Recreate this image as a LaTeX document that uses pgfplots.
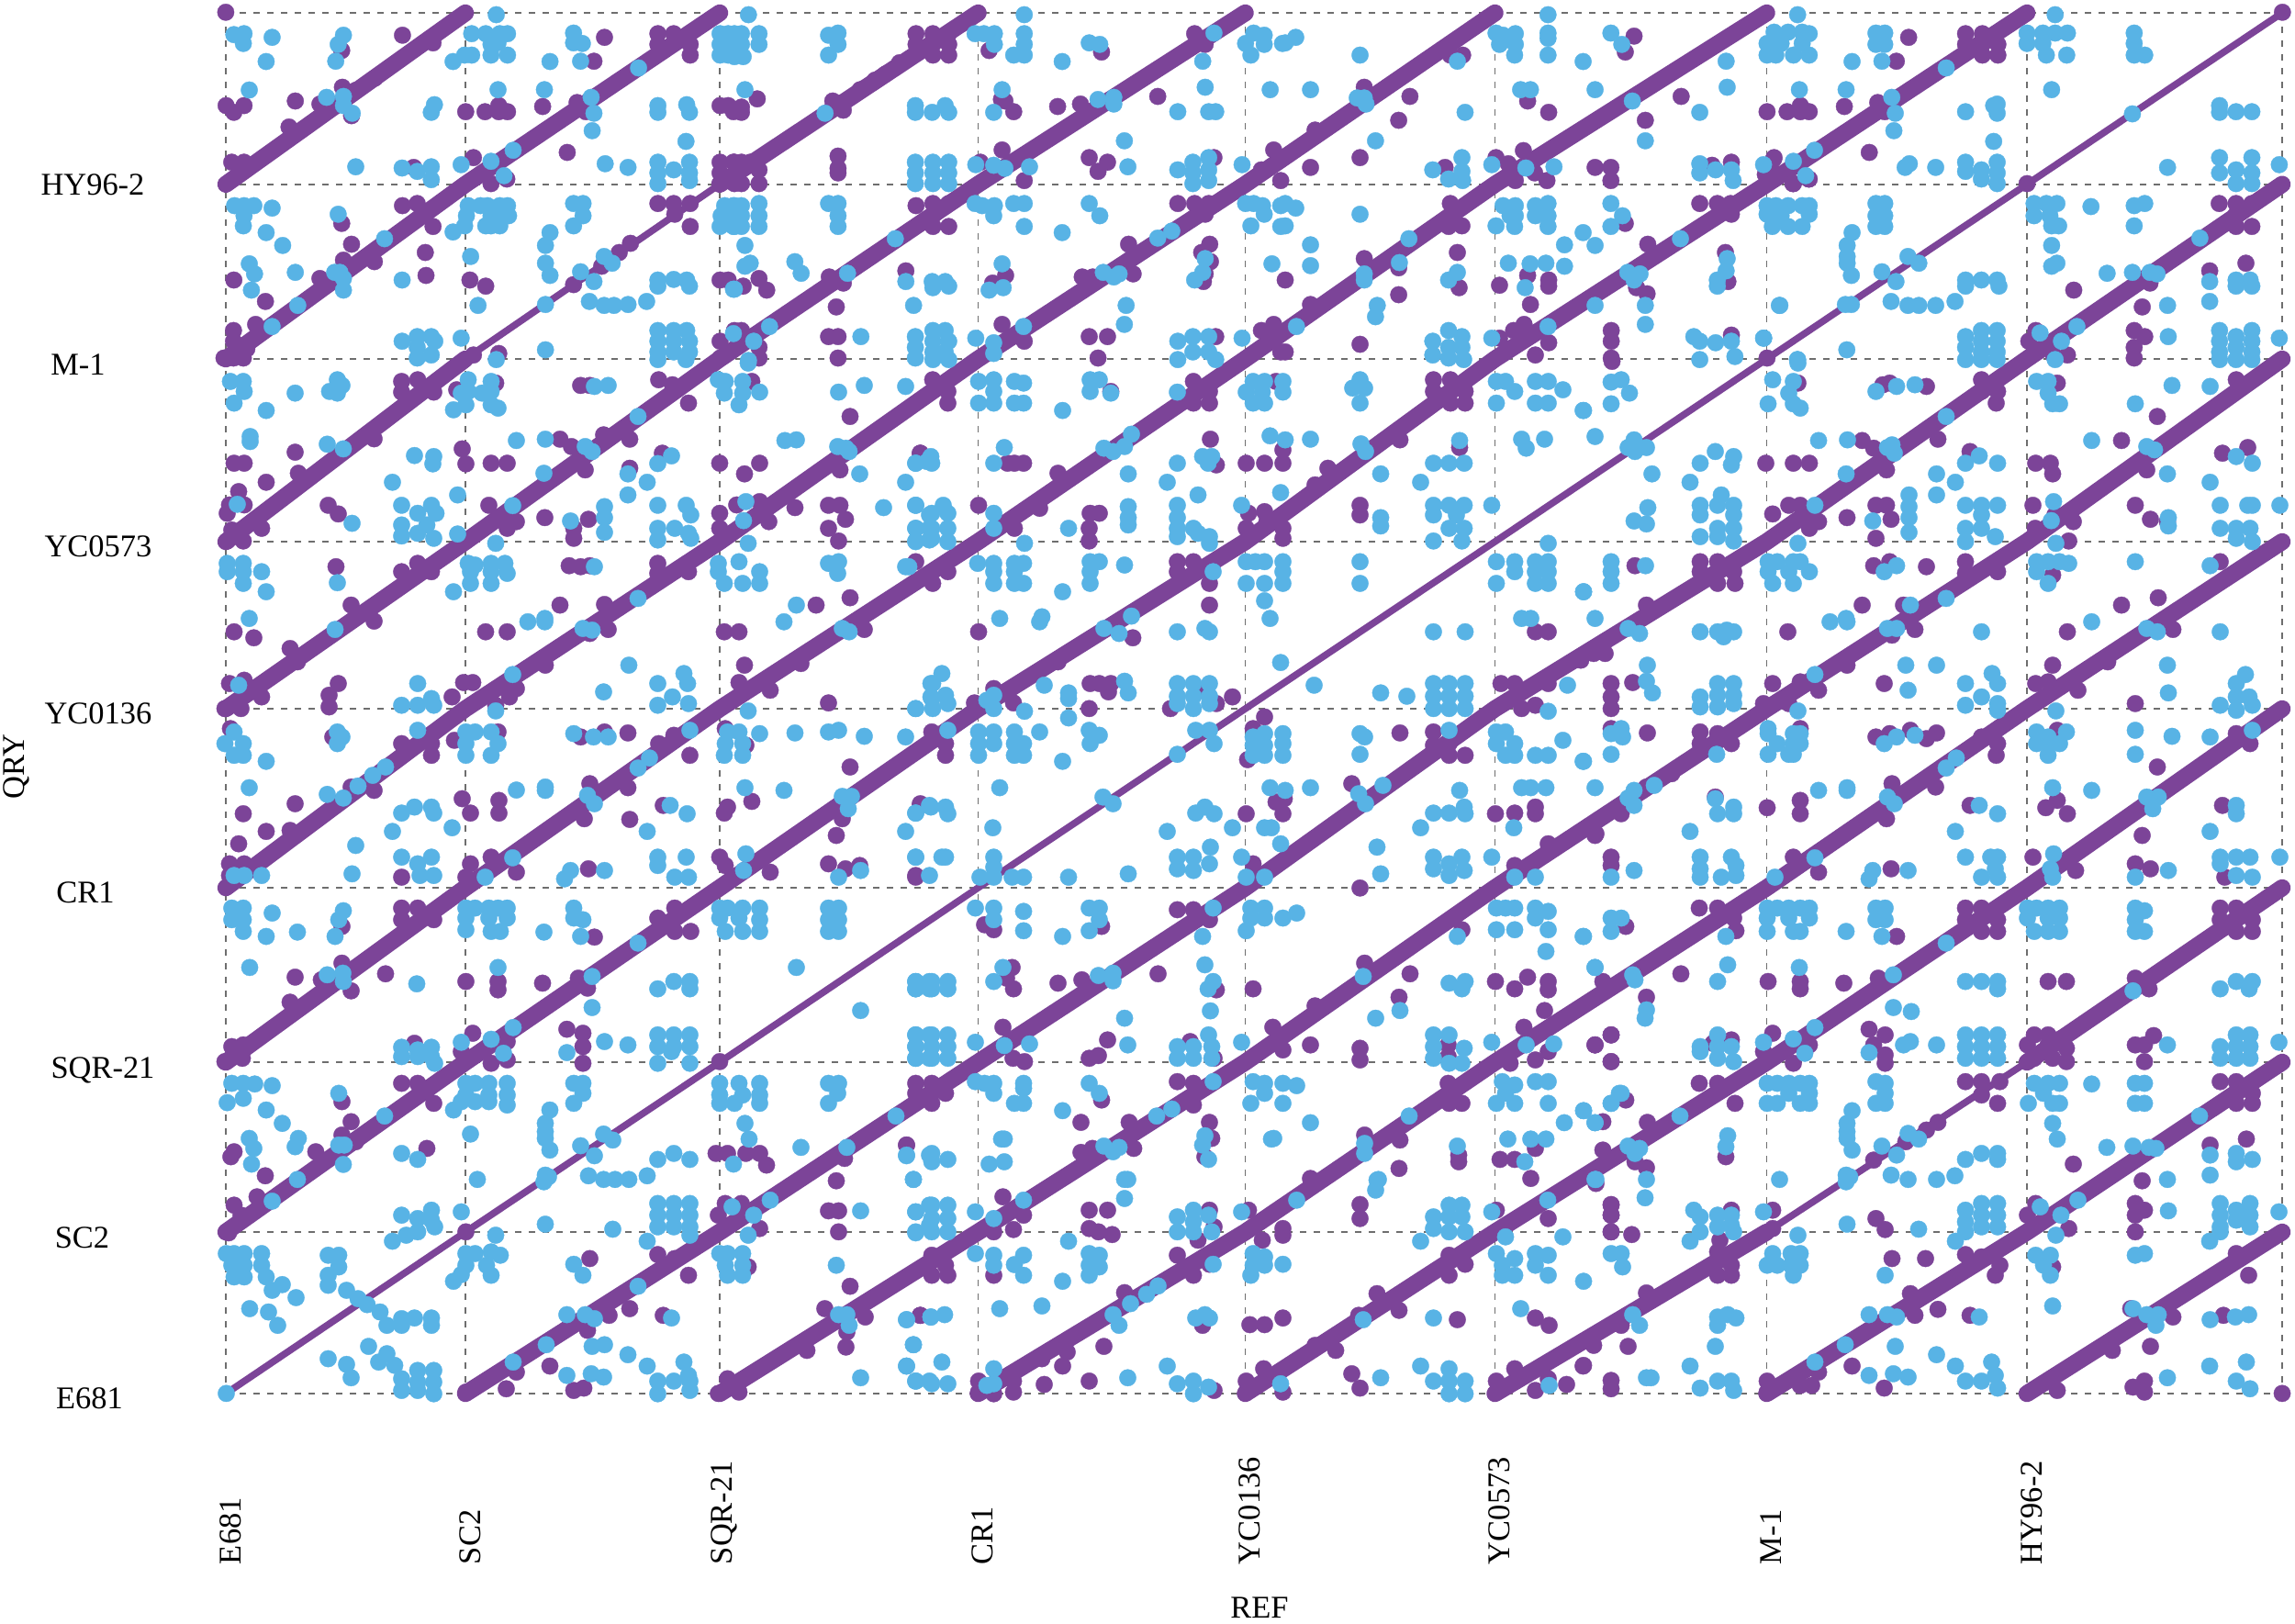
\documentclass[border=0pt]{standalone}
\usepackage{pgfplots}
\pgfplotsset{compat=1.18}
\usepackage{fontspec}
\setmainfont{Liberation Serif}
\definecolor{pur}{HTML}{7C4498}
\definecolor{blu}{HTML}{58B3E5}
\definecolor{grd}{HTML}{6E6E6E}
\newcommand\yl[3]{\raisebox{#2cm}[0pt][0pt]{\makebox[0pt][c]{\hspace{#1cm}#3}}}
\pgfplotsset{
 pd/.style={only marks,mark=*,mark size=2.6pt,mark options={draw=pur,fill=pur,line width=0.1pt}},
 bd/.style={only marks,mark=*,mark size=2.6pt,mark options={draw=blu,fill=blu,line width=0.1pt}},
 ca/.style={x filter/.expression={x/2.613+#1},y filter/.expression={y/3}},
 cb/.style={x filter/.expression={x/2+#1},y filter/.expression={y/2.75+390}},
 cc/.style={x filter/.expression={x/2+#1},y filter/.expression={y/2.75+960}},
 thick diag/.style={pur,line width=0.185cm,line cap=round,line join=round},
 thin diag/.style={pur,line width=0.075cm,line cap=round,line join=round},
}
\begin{document}
\begin{tikzpicture}
\useasboundingbox (0,0) rectangle (25cm,17.68cm);
\begin{axis}[
 at={(2.46cm,2.5cm)},anchor=south west,scale only axis,width=22.4cm,height=15.04cm,
 xmin=246,xmax=2486,ymin=14,ymax=1518,y dir=reverse,clip=false,
 axis line style={draw=none},tick style={draw=none},
 xtick={246,507,784,1065.5,1356.5,1628.5,1924.5,2208,2486},
 xticklabels={E681,SC2,SQR-21,CR1,YC0136,YC0573,M-1,HY96-2,},
 ytick={14,200.7,391,590,772,967,1157,1342,1518},
 yticklabels={,\yl{0.1}{-0.12}{HY96-2},\yl{-0.22}{-0.17}{M-1},\yl{0.22}{-0.16}{YC0573},\yl{0.22}{-0.16}{YC0136},\yl{-0.06}{-0.16}{CR1},\yl{0.32}{-0.17}{SQR-21},\yl{-0.13}{-0.17}{SC2},\yl{0.03}{-0.16}{E681}},
 grid=major,grid style={grd,line width=0.016cm,dash pattern=on 0.065cm off 0.085cm},
 ticklabel style={font=\fontsize{9.8}{11}\selectfont},
 xticklabel style={rotate=90,anchor=west,inner sep=0pt,outer sep=0pt,xshift=-1.86cm,yshift=-0.05cm},
 yticklabel style={anchor=center,inner sep=0pt,outer sep=0pt,xshift=-1.5cm},
 every axis x label/.style={at={(axis cs:1372,1751)},anchor=center,font=\fontsize{9.8}{11}\selectfont},
 every axis y label/.style={at={(axis cs:18,835)},anchor=center,rotate=90,font=\fontsize{9.8}{11}\selectfont},
 xlabel={REF},ylabel={QRY},
]
% synteny diagonals
\addplot[thin diag] coordinates {(246,1518)(507,1342)(784,1157)(1065.5,967)(1356.5,772)(1628.5,590)(1924.5,391)(2208,200.7)(2486,14)};
\addplot[thick diag] coordinates {(246,1342)(507,1157)(784,967)(1065.5,772)(1356.5,590)(1628.5,391)(1924.5,200.7)(2208,14)};
\addplot[thick diag] coordinates {(246,1157)(507,967)(784,772)(1065.5,590)(1356.5,391)(1628.5,200.7)(1924.5,14)};
\addplot[thick diag] coordinates {(246,967)(507,772)(784,590)(1065.5,391)(1356.5,200.7)(1628.5,14)};
\addplot[thick diag] coordinates {(246,772)(507,590)(784,391)(1065.5,200.7)(1356.5,14)};
\addplot[thick diag] coordinates {(246,590)(507,391)};
\addplot[thin diag] coordinates {(507,391)(784,200.7)};
\addplot[thick diag] coordinates {(784,200.7)(1065.5,14)};
\addplot[thick diag] coordinates {(246,391)(507,200.7)(784,14)};
\addplot[thick diag] coordinates {(246,200.7)(507,14)};
\addplot[thick diag] coordinates {(507,1518)(784,1342)(1065.5,1157)(1356.5,967)(1628.5,772)(1924.5,590)(2208,391)(2486,200.7)};
\addplot[thick diag] coordinates {(784,1518)(1065.5,1342)(1356.5,1157)(1628.5,967)(1924.5,772)(2208,590)(2486,391)};
\addplot[thick diag] coordinates {(1065.5,1518)(1356.5,1342)(1628.5,1157)(1924.5,967)(2208,772)(2486,590)};
\addplot[thick diag] coordinates {(1356.5,1518)(1628.5,1342)(1924.5,1157)(2208,967)(2486,772)};
\addplot[thick diag] coordinates {(1628.5,1518)(1924.5,1342)};
\addplot[thin diag] coordinates {(1924.5,1342)(2208,1157)};
\addplot[thick diag] coordinates {(2208,1157)(2486,967)};
\addplot[thick diag] coordinates {(1924.5,1518)(2208,1342)(2486,1157)};
\addplot[thick diag] coordinates {(2208,1518)(2486,1342)};
% purple dots
\addplot[pd,ca=200] coordinates {(120,40)(623,115)(710,140)(450,165)(452,285)(318,330)(121,345)(172,345)(143,367)(388,340)(478,378)(300,415)(137,530)(172,530)(655,547)(545,255)(490,295)(803,365)(858,365)(897,345)(897,365)(922,365)(1022,348)(1092,498)(825,515)(875,600)(920,585)(1120,335)(1145,365)(1198,122)(1168,200)(1350,110)(1395,110)(1350,145)(1442,145)(1442,180)(1527,345)(1550,345)(1565,365)(1527,530)(1527,565)(1527,600)(1565,530)(623,672)(665,665)(710,740)(478,798)(688,825)(455,850)(543,855)(690,900)(143,915)(233,985)(388,910)(450,730)(815,915)(860,935)(897,1155)(825,1160)(142,1080)(205,1060)(142,1115)(142,1170)(170,1170)(115,1170)(180,1140)(1350,665)(1395,665)(1442,665)(1398,700)(1442,740)(1272,795)(1240,825)(1190,870)(1110,930)(1527,915)(1550,915)(1527,1115)(1527,1170)};
\addplot[pd,ca=800] coordinates {(65,323)(20,350)(20,367)(517,110)(517,145)(565,110)(565,145)(565,180)(610,110)(610,145)(610,180)(725,165)(1045,170)(1310,110)(1340,145)(280,330)(310,360)(358,293)(400,262)(430,242)(470,205)(295,510)(295,550)(295,565)(0,530)(20,530)(70,555)(70,600)(20,600)(0,600)(45,530)(760,325)(770,330)(795,365)(920,348)(985,340)(1205,315)(762,490)(700,530)(825,590)(1010,515)(1062,530)(1035,560)(1365,515)(517,672)(565,665)(565,705)(610,665)(610,740)(565,740)(1262,665)(1310,665)(1350,665)(1340,700)(1122,798)(1135,895)(1353,798)(1330,825)(1355,855)(1335,920)(1340,895)(70,910)(25,935)(92,948)(270,905)(310,925)(488,885)(735,925)(772,900)(990,905)(1020,905)(290,1003)(268,1100)(295,1100)(295,1170)(0,1080)(20,1080)(70,1170)(70,1135)(1010,1100)(1062,1100)(1035,1170)(762,1060)(825,1115)(1370,1100)(1535,490)(1500,555)(1555,590)(1535,1060)(1500,1080)(1555,1150)};
\addplot[pd,ca=1400] coordinates {(505,180)(470,180)(690,330)(750,367)(993,118)(968,170)(355,315)(323,393)(225,285)(213,515)(72,547)(455,547)(1270,530)(1215,540)(882,547)(927,547)(927,590)(1127,315)(1025,393)(85,425)(600,515)(635,535)(678,492)(655,590)(745,590)(710,565)(470,665)(465,740)(503,738)(490,825)(1180,665)(1230,665)(1268,665)(1270,700)(1032,798)(1253,825)(0,915)(225,845)(323,963)(495,940)(610,932)(690,900)(750,915)(750,935)(698,995)(1260,920)(323,875)(1000,940)(1030,960)(213,1125)(928,1080)(928,1115)(928,1170)(750,1120)(712,1160)(1270,1095)(610,1105)(680,1060)(650,1080)(72,995)(0,1150)(968,730)(1390,520)(1390,565)(1490,585)(1445,600)};
\addplot[pd,ca=1900] coordinates {(468,122)(433,200)(630,110)(678,110)(630,145)(678,145)(678,180)(722,145)(722,180)(65,365)(122,365)(160,345)(160,365)(185,365)(285,348)(380,335)(400,365)(356,498)(85,515)(85,565)(60,570)(140,600)(185,585)(1532,40)(805,600)(1325,885)(1428,860)(938,948)(1133,1003)(1155,925)(1110,1080)(1140,1100)(1110,1135)(1110,1170)(810,1115)(830,1080)(830,1150)(880,1160)(920,1160)(1352,665)(1400,665)(1445,665)(1400,700)(1445,740)(1400,740)(65,1170)};
\addplot[pd,cb=230] coordinates {(415,70)(450,65)(415,102)(485,102)(535,95)(620,75)(805,82)(825,82)(975,65)(1005,80)(1040,135)(1178,70)(1392,175)(183,282)(50,315)(72,315)(355,242)(120,372)(190,345)(60,400)(40,440)(72,440)(35,465)(110,510)(45,515)(35,548)(70,548)(255,441)(277,467)(547,272)(555,317)(610,315)(645,315)(760,243)(785,265)(912,243)(855,230)(815,335)(727,478)(822,483)(790,510)(790,540)(605,441)(665,490)(645,510)(912,330)(983,285)(1108,315)(1195,315)(1162,347)(1108,465)(1108,510)(1145,440)(1195,430)(1215,490)(1272,448)(1345,441)(1370,441)(1382,483)(1345,510)(1367,548)(1545,285)(1370,335)(272,625)(415,640)(450,615)(480,640)(780,622)(805,625)(825,622)(305,740)(355,788)(50,820)(93,838)(172,870)(188,910)(598,820)(645,820)(760,740)(857,738)(865,813)(825,825)(728,920)(1118,820)(1150,820)(1162,920)(1318,740)(1392,718)(1423,813)(973,615)(973,645)(1040,640)(1285,915)(1535,610)(40,975)(72,965)(110,1015)(277,975)(257,1010)(257,1045)(30,1050)(65,1050)(525,1015)(550,972)(570,972)(620,1040)(650,1015)(665,990)(1150,972)(1218,995)(1345,1033)(42,1110)(265,1135)(415,1155)(480,1155)(480,1190)(530,1145)(625,1120)(805,1135)(857,1120)(908,1123)(1120,1110)(1165,1160)(975,1155)(1008,1130)(1043,1190)(1392,1225)(825,1275)(908,1287)(183,1335)(70,1365)(120,1418)(172,1415)(60,1455)(355,1295)(305,1285)(547,1320)(565,1363)(627,1325)(627,1363)(912,1382)(813,1380)(985,1340)(1118,1363)(1125,1345)(1178,1328)(1362,1430)(1375,1380)(1545,1340)(40,1515)(72,1515)(40,1550)(415,1555)(555,1555)(565,1515)(610,1495)(665,1540)(822,1530)(1108,1495)(1120,1520)(1218,1540)(1345,1515)(1382,1530)(1413,1520)(1535,1550)};
\addplot[pd,cb=980] coordinates {(105,135)(72,65)(105,100)(460,100)(820,70)(640,70)(675,100)(640,135)(675,135)(677,243)(1090,245)(1220,268)(1163,65)(1200,65)(1232,100)(1200,135)(1232,135)(1163,100)(45,285)(235,315)(250,315)(270,315)(690,320)(755,315)(795,315)(835,315)(835,275)(933,330)(905,380)(345,345)(305,450)(172,441)(250,510)(415,465)(435,465)(413,510)(413,548)(1003,441)(1003,470)(760,465)(795,460)(755,510)(835,510)(835,540)(800,490)(105,640)(72,675)(605,610)(640,610)(605,640)(675,675)(675,740)(172,820)(508,838)(345,910)(1385,820)(1413,820)(1520,880)(1310,975)(1340,975)(1413,975)(1385,1040)(1355,1050)(415,975)(435,975)(460,975)(455,1000)(413,1050)(590,1050)(725,1015)(248,1033)(655,995)(690,1035)(163,1033)(205,990)(795,1075)(70,1120)(100,1155)(100,1190)(758,1203)(770,1110)(1090,1123)(1163,1120)(1197,1155)(1232,1190)(1163,1160)(1197,1190)(985,1275)(45,1335)(820,1330)(838,1320)(835,1365)(755,1365)(1298,1365)(1340,1363)(1385,1345)(1385,1365)(770,1515)(1413,1455)(1340,1520)(1515,1430)(35,1555)};
\addplot[pd,cb=1716] coordinates {(80,10)(485,75)(415,315)(475,315)(510,315)(670,80)(685,75)(765,85)(885,65)(885,100)(917,135)(625,247)(650,270)(790,243)(678,335)(920,100)(860,280)(1190,247)(1268,175)(1410,285)(1465,268)(1003,315)(1035,315)(1040,347)(1050,75)(1440,65)(1245,335)(430,467)(465,441)(490,441)(530,490)(592,478)(655,441)(678,441)(688,483)(655,540)(510,510)(997,441)(1045,470)(1085,490)(1002,510)(1075,548)(1220,441)(1253,483)(1290,490)(130,622)(272,610)(272,640)(310,610)(345,640)(348,675)(310,675)(650,622)(685,610)(765,625)(850,610)(850,645)(920,640)(1405,610)(1040,650)(155,740)(625,740)(715,740)(463,820)(740,813)(690,830)(1270,718)(1190,740)(1072,820)(1302,813)(65,885)(40,885)(12,905)(592,920)(78,975)(125,972)(78,1015)(78,1050)(430,975)(530,995)(490,970)(410,1035)(465,1035)(673,975)(1003,975)(1030,970)(1040,920)(1095,995)(1220,1035)(78,1110)(157,1123)(272,1120)(272,1155)(310,1125)(340,1155)(490,1110)(655,1135)(685,1125)(730,1115)(765,1140)(787,1123)(885,1135)(920,1155)(917,1190)(1050,1115)(1440,1125)(1470,1155)(1268,1225)(210,1245)(155,1285)(690,1275)(785,1285)(305,1315)(418,1347)(490,1325)(490,1365)(860,1340)(1050,1325)(1025,1347)(1072,1365)(1410,1340)(1235,1430)(1160,910)(678,1380)(100,1365)(45,1425)(78,1495)(78,1520)(475,1495)(530,1540)(997,1495)(1090,1535)(1220,1515)(1253,1530)(688,1530)(1415,1555)};
\addplot[pd,cc=230] coordinates {(415,80)(450,80)(415,115)(485,115)(285,135)(285,245)(183,287)(240,295)(380,277)(305,328)(172,362)(835,167)(555,300)(625,300)(625,325)(722,305)(1010,80)(973,110)(1045,150)(1010,150)(800,290)(820,320)(45,495)(70,490)(30,540)(68,530)(443,485)(570,455)(545,510)(610,545)(645,535)(645,480)(775,443)(810,455)(810,495)(810,545)(1108,540)(415,605)(450,605)(485,665)(285,660)(305,720)(285,760)(43,825)(470,800)(118,882)(50,810)(228,810)(315,780)(1100,815)(1125,815)(1165,815)(1195,815)(1210,850)(1362,897)(1515,790)(1380,830)(50,970)(100,945)(65,1000)(38,1053)(555,1050)(1120,965)(1155,965)(1105,1000)(1195,1040)(1345,987)(1367,987)(1367,1050)(825,1130)(973,1118)(1010,1130)(1040,1180)(1170,1155)(1392,1213)(1337,1280)(1425,1305)(867,1300)(912,1280)(985,1300)(1545,1300)(1385,1350)(1383,1395)(1298,1405)(820,1345)(738,1452)(790,1525)(812,1518)(643,1520)(555,1530)(665,1470)(1125,1490)(1150,1530)(1105,1534)};
\addplot[pd,cc=980] coordinates {(205,145)(185,130)(440,135)(245,258)(233,290)(248,322)(345,305)(397,295)(563,277)(690,325)(770,322)(1003,20)(1112,277)(1225,145)(1088,347)(1298,300)(1340,322)(1368,287)(1413,300)(1413,325)(1405,387)(1013,245)(905,373)(605,85)(640,85)(675,115)(225,437)(247,530)(272,540)(453,475)(433,522)(413,530)(633,480)(685,530)(813,437)(895,490)(835,505)(1003,500)(1003,535)(1195,490)(1195,525)(1360,437)(1385,535)(1413,510)(1515,490)(1550,460)(1550,540)(1330,545)(35,605)(35,635)(70,605)(70,665)(100,635)(605,600)(640,605)(640,670)(1195,605)(1197,665)(1225,665)(440,655)(395,722)(500,722)(675,722)(680,770)(665,825)(1013,760)(1090,775)(1385,800)(1218,820)(1218,840)(1308,833)(1340,833)(1375,890)(1088,860)(510,800)(395,812)(420,800)(15,790)(225,945)(270,1000)(413,985)(453,985)(413,1040)(433,1050)(463,1058)(205,1050)(248,1043)(675,985)(650,1075)(685,1035)(760,985)(835,1040)(835,1060)(790,1075)(1003,968)(1003,1010)(1300,985)(1413,1010)(1550,968)(1550,1000)(1550,1050)(895,890)(70,1120)(70,1180)(105,1180)(100,1150)(205,1180)(605,1120)(640,1180)(675,1147)(1197,1120)(1197,1180)(1232,1147)(1040,1235)(1088,1285)(490,1232)(1000,1300)(763,1328)(795,1328)(835,1308)(1215,1313)(1385,1308)(1415,1330)(45,1300)(660,1330)(445,1393)(355,1452)(310,1430)(365,1410)(905,1390)(950,1405)(172,1497)(172,1530)(205,1535)(248,1497)(248,1530)(315,1507)(413,1497)(685,1525)(755,1497)(755,1530)(835,1530)(793,1460)(985,1475)(1003,1518)(1300,1497)(1300,1530)(1340,1460)(1385,1525)(1413,1490)(1453,1507)(1490,1450)};
\addplot[pd,cc=1716] coordinates {(270,80)(310,80)(345,110)(350,148)(110,135)(700,165)(850,80)(885,80)(920,115)(850,115)(885,150)(920,150)(1405,80)(1440,80)(1405,115)(1475,115)(1440,150)(1475,150)(230,277)(60,300)(155,347)(420,300)(490,300)(490,322)(585,305)(1030,300)(1070,300)(660,290)(1220,290)(1250,322)(78,460)(43,490)(78,540)(340,475)(300,485)(430,455)(410,510)(475,545)(510,490)(640,443)(675,460)(650,490)(675,520)(675,545)(1000,460)(1030,460)(1060,470)(985,490)(1030,490)(1070,500)(1000,530)(1040,530)(1070,540)(1260,462)(1220,490)(1240,490)(1240,540)(270,605)(310,605)(348,665)(110,655)(60,720)(157,722)(850,600)(885,600)(920,665)(885,640)(925,600)(1405,600)(1440,600)(1440,665)(1475,635)(1475,665)(790,722)(765,745)(720,780)(650,835)(1383,790)(1462,772)(1085,847)(1235,897)(328,825)(60,805)(130,840)(155,858)(45,905)(78,970)(78,1000)(78,1050)(123,1058)(340,985)(315,1075)(430,985)(430,1040)(655,1010)(675,1043)(1003,965)(985,1000)(1075,1040)(1220,965)(1240,985)(1220,1000)(1220,1050)(690,1130)(763,1130)(850,1118)(885,1125)(925,1150)(915,1180)(1040,1155)(310,1110)(340,1150)(340,1180)(310,1180)(1440,1115)(1467,1180)(155,1233)(730,1235)(790,1282)(740,1300)(860,1300)(1210,1280)(1302,1305)(1412,1300)(115,1393)(1253,1393)(100,1330)(40,1390)(17,1452)(603,1452)(1170,1405)(78,1495)(78,1520)(673,1518)(418,1497)(418,1530)(490,1510)(515,1510)(530,1470)(1050,1525)(1215,1515)(1240,1497)(1240,1530)(1540,1534)};
% blue dots
\addplot[bd,ca=200] coordinates {(143,113)(172,110)(170,142)(252,122)(455,115)(440,145)(235,201)(433,200)(187,294)(407,318)(455,315)(455,345)(480,370)(714,342)(705,367)(490,545)(622,549)(665,560)(705,545)(705,587)(820,110)(860,110)(900,110)(922,110)(875,145)(895,140)(875,180)(922,180)(820,180)(800,180)(767,201)(890,48)(1110,108)(1110,140)(1135,142)(1043,201)(1130,200)(895,293)(1027,293)(1160,318)(1168,370)(1163,427)(1430,462)(1200,535)(1265,547)(1350,530)(1350,565)(1350,600)(1395,555)(1440,530)(1440,565)(1440,590)(1350,345)(1350,367)(1432,342)(1440,367)(1295,222)(938,491)(875,527)(790,538)(912,574)(1527,110)(1527,145)(1527,180)(1550,110)(1550,145)(1550,180)(145,672)(172,672)(200,672)(172,705)(170,738)(252,680)(440,700)(235,760)(282,802)(187,862)(202,895)(193,948)(318,890)(445,890)(455,948)(430,890)(455,910)(325,998)(252,1067)(572,780)(622,915)(817,838)(810,672)(845,672)(865,672)(900,672)(922,672)(925,705)(805,705)(875,705)(900,705)(800,738)(860,738)(875,738)(900,738)(767,758)(1110,665)(1137,665)(1137,705)(1110,738)(1043,760)(1030,802)(1030,860)(1043,900)(1168,920)(1130,888)(1197,838)(1220,860)(1030,995)(838,998)(1155,985)(1197,998)(1225,998)(1265,995)(1318,985)(1350,915)(1395,913)(1432,915)(1440,935)(1350,935)(1565,945)(1350,1080)(1350,1115)(1350,1150)(1395,1080)(1395,1115)(1395,1150)(1432,1080)(1440,1115)(1440,1150)(1350,1175)(1430,1175)(622,1115)(665,1100)(705,1100)(665,1135)(715,1115)(705,1160)(665,1170)(790,1105)(1030,1143)(890,1175)(1565,1090)(1540,672)(1530,705)(1527,740)(1565,672)(1565,740)};
\addplot[bd,ca=800] coordinates {(40,48)(20,110)(0,110)(20,145)(70,110)(70,145)(25,185)(0,185)(268,115)(295,108)(295,145)(268,180)(685,110)(710,110)(740,110)(740,145)(825,48)(825,110)(825,145)(825,180)(795,180)(1010,140)(1040,145)(933,201)(1365,108)(1333,200)(1478,108)(1508,115)(1455,142)(1508,145)(1470,180)(1560,142)(30,293)(515,345)(515,367)(563,367)(600,345)(610,367)(258,370)(762,293)(738,367)(1035,325)(1080,318)(1080,340)(1262,365)(1340,285)(1350,365)(1370,365)(1525,293)(1110,460)(1120,545)(515,530)(515,565)(515,600)(565,530)(565,565)(565,600)(610,530)(610,565)(610,600)(687,538)(738,540)(770,550)(840,545)(1262,555)(1305,530)(1350,515)(1305,565)(1350,555)(1305,600)(1350,590)(1445,538)(0,672)(20,672)(20,705)(0,705)(20,740)(0,740)(70,665)(70,705)(70,740)(30,802)(30,870)(45,860)(172,855)(190,893)(268,665)(295,665)(295,705)(295,740)(685,665)(705,672)(740,672)(738,705)(795,665)(825,665)(825,740)(1010,665)(1040,705)(933,760)(1503,672)(1478,665)(1455,665)(1508,700)(1470,738)(1555,672)(1555,740)(458,780)(322,893)(762,862)(765,940)(725,948)(488,920)(563,920)(600,920)(565,940)(610,935)(510,998)(1050,890)(1080,905)(1095,895)(1205,778)(1245,755)(1340,845)(1333,890)(1310,915)(1530,862)(1115,998)(1110,1060)(823,1067)(360,1100)(515,1100)(515,1135)(515,1170)(565,1080)(565,1115)(565,1150)(565,1175)(600,1080)(610,1115)(600,1150)(610,1175)(687,1105)(738,1120)(738,1155)(1262,1115)(1262,1175)(1305,1100)(1305,1150)(1350,1100)(1350,1150)(1370,1175)(1445,1105)(0,945)(100,1067)(55,1115)(40,1178)};
\addplot[bd,ca=1400] coordinates {(748,48)(748,108)(748,125)(748,180)(600,108)(620,115)(655,110)(610,145)(655,145)(653,180)(927,108)(958,145)(848,201)(213,180)(490,200)(30,122)(0,140)(72,293)(670,293)(698,293)(882,293)(1255,200)(1258,285)(1180,367)(988,330)(225,320)(205,320)(230,340)(512,367)(257,460)(1025,460)(503,515)(420,555)(503,560)(465,585)(505,590)(588,538)(685,549)(765,545)(1180,535)(1180,565)(1225,555)(1270,555)(1275,590)(30,680)(0,665)(0,738)(213,700)(620,672)(655,672)(640,705)(655,705)(600,738)(653,740)(712,672)(748,665)(748,705)(712,705)(748,740)(927,665)(960,705)(927,740)(848,760)(882,802)(795,800)(352,780)(1125,780)(72,800)(72,868)(325,858)(225,895)(225,915)(490,890)(465,915)(1258,845)(1255,885)(1230,915)(1230,935)(635,860)(697,862)(742,860)(795,870)(683,940)(975,890)(1010,895)(993,915)(262,998)(257,1035)(1025,998)(1025,1060)(882,998)(1408,998)(32,1067)(748,1067)(588,1105)(1362,1105)(420,1115)(465,1080)(503,1100)(465,1135)(503,1135)(420,1160)(465,1170)(508,1175)(1163,1100)(1180,1115)(1225,1120)(1270,1115)(1280,1165)(1180,1175)(1458,1175)};
\addplot[bd,ca=1900] coordinates {(152,48)(85,105)(125,105)(165,105)(185,110)(65,142)(105,142)(165,142)(65,180)(90,180)(140,180)(185,180)(375,108)(400,108)(375,145)(400,145)(307,201)(392,200)(575,222)(157,293)(290,293)(420,318)(430,370)(426,427)(710,345)(720,340)(630,365)(720,370)(710,462)(55,538)(140,527)(200,491)(175,574)(458,547)(470,535)(545,547)(630,530)(630,560)(675,555)(720,530)(720,565)(675,585)(720,600)(805,108)(850,108)(885,108)(920,108)(805,142)(850,142)(860,180)(918,180)(885,48)(1110,108)(1110,142)(1110,180)(1140,180)(875,293)(1105,372)(1353,345)(1353,367)(1400,365)(1445,365)(1205,547)(1523,538)(1353,515)(1353,565)(1400,555)(1445,515)(1445,565)(1400,600)(1445,600)(65,672)(90,672)(125,672)(165,672)(185,672)(65,700)(105,705)(185,700)(80,740)(125,740)(165,740)(375,665)(400,665)(375,705)(400,705)(375,740)(400,740)(307,760)(293,802)(293,838)(293,860)(305,900)(466,838)(497,860)(392,888)(432,920)(630,915)(675,915)(720,915)(630,935)(725,935)(288,995)(305,995)(100,998)(418,985)(466,998)(497,998)(545,998)(600,985)(875,802)(890,860)(875,870)(1033,893)(1105,890)(1155,890)(1175,895)(1297,778)(1325,920)(1400,915)(1440,915)(1445,935)(1400,935)(1325,985)(1205,998)(825,665)(860,665)(890,665)(987,675)(1110,672)(1140,665)(825,705)(870,705)(875,738)(895,738)(1110,738)(55,1105)(292,1143)(152,1175)(630,1100)(630,1135)(630,1175)(675,1080)(675,1115)(675,1150)(675,1175)(720,1080)(720,1115)(720,1150)(720,1175)(842,1088)(903,1115)(885,1175)(947,1067)(1207,1100)(1353,1080)(1353,1115)(1353,1150)(1353,1175)(1400,1100)(1400,1135)(1400,1175)(1445,1080)(1445,1115)(1445,1150)(1445,1175)(1523,1105)};
\addplot[bd,cb=230] coordinates {(42,70)(70,70)(72,100)(50,135)(120,157)(183,105)(275,65)(285,82)(258,100)(275,105)(85,235)(85,250)(253,258)(288,272)(443,292)(485,295)(483,317)(395,372)(537,410)(57,438)(415,441)(450,465)(480,441)(490,465)(415,500)(415,533)(450,525)(470,500)(485,540)(307,495)(537,527)(620,555)(657,442)(560,65)(610,70)(560,100)(610,100)(545,105)(590,105)(555,140)(528,155)(610,140)(625,150)(665,247)(728,243)(815,265)(830,280)(725,345)(908,347)(950,372)(908,410)(973,316)(1003,293)(835,85)(865,82)(930,175)(973,441)(1035,441)(1045,470)(783,488)(857,445)(857,478)(857,522)(973,510)(973,545)(1010,510)(1040,525)(1045,540)(1120,70)(1105,65)(1158,70)(1118,105)(1158,105)(1195,102)(1150,140)(1170,15)(1250,247)(1275,245)(1383,270)(1365,265)(1390,280)(1413,347)(1165,430)(1160,487)(1170,555)(1465,448)(1535,441)(1513,372)(1535,315)(1560,310)(1535,510)(1535,548)(1565,470)(1565,510)(1565,545)(1367,102)(1423,82)(1513,85)(35,615)(70,615)(35,640)(70,640)(110,640)(70,675)(120,700)(275,673)(528,700)(560,615)(575,620)(565,640)(610,615)(640,615)(645,645)(610,640)(565,675)(610,675)(835,625)(83,780)(270,813)(690,790)(727,780)(727,790)(810,810)(830,815)(930,720)(910,920)(1105,615)(1150,610)(1105,640)(1118,675)(1158,675)(1195,640)(1195,675)(1345,615)(1367,610)(1365,645)(1513,625)(1275,740)(1248,790)(1375,810)(1390,820)(60,980)(450,975)(450,1040)(415,1040)(480,1020)(485,1040)(855,1000)(973,975)(973,1040)(1030,945)(1038,975)(1005,1015)(1040,1035)(1568,975)(1568,1015)(1535,1050)(657,948)(620,1057)(1170,1057)(50,1120)(30,1155)(70,1155)(50,1190)(70,1190)(275,1120)(285,1135)(275,1155)(120,1208)(450,1115)(555,1120)(575,1120)(555,1155)(555,1190)(610,1120)(625,1155)(610,1190)(1043,1115)(790,1125)(833,1135)(865,1135)(1125,1120)(1150,1120)(1120,1155)(1158,1155)(1118,1190)(1158,1190)(1195,1125)(1272,1123)(1345,1120)(1367,1115)(1423,1133)(1513,1135)(83,1287)(253,1307)(288,1318)(320,1282)(352,1250)(380,1225)(665,1294)(728,1285)(728,1295)(820,1310)(835,1335)(955,1198)(930,1228)(1163,1287)(1248,1295)(1375,1313)(1395,1313)(1388,1350)(415,1363)(443,1345)(480,1345)(485,1363)(395,1418)(525,1407)(1000,1340)(1037,1365)(950,1418)(1535,1363)(1565,1340)(1513,1418)(315,1460)(415,1495)(480,1495)(450,1515)(455,1550)(485,1550)(307,1545)(50,1550)(72,1550)(110,1550)(657,1497)(597,1555)(783,1535)(857,1535)(770,1560)(1165,1485)(1160,1535)(973,1495)(973,1520)(1035,1495)(1010,1555)(1040,1555)(1535,1495)(1415,1535)(1367,1555)(1565,1550)};
\addplot[bd,cb=980] coordinates {(172,70)(205,65)(205,100)(172,135)(205,135)(250,70)(270,75)(250,135)(270,135)(415,65)(435,65)(415,100)(460,105)(355,157)(605,102)(770,70)(795,70)(755,102)(790,102)(770,135)(795,135)(835,70)(835,102)(1003,65)(987,90)(1013,90)(1003,135)(1300,70)(1320,70)(1340,100)(1300,135)(1385,70)(1413,70)(1445,95)(1385,135)(1413,135)(1490,157)(1005,257)(1015,280)(228,268)(205,315)(445,270)(465,280)(490,265)(505,228)(68,295)(70,315)(35,315)(605,315)(498,347)(583,372)(650,410)(660,295)(680,295)(672,315)(807,233)(840,245)(895,243)(1048,347)(1135,372)(1220,247)(1163,315)(1197,315)(1230,315)(1355,243)(1365,270)(1405,243)(35,441)(95,441)(70,465)(105,465)(35,510)(70,510)(105,510)(35,550)(70,540)(105,550)(205,465)(205,510)(272,555)(368,510)(498,445)(498,478)(498,500)(605,441)(605,478)(605,510)(605,535)(640,510)(675,535)(650,525)(675,555)(745,441)(830,403)(1048,478)(1048,503)(1163,441)(1197,441)(1230,441)(1163,470)(1213,470)(1197,510)(1230,510)(1163,548)(1225,548)(1290,441)(1413,555)(20,625)(170,615)(205,615)(250,615)(270,615)(205,640)(250,640)(205,675)(250,675)(270,675)(355,700)(415,610)(435,610)(415,640)(415,675)(490,620)(683,640)(755,610)(775,610)(795,610)(755,675)(795,675)(835,610)(835,640)(835,675)(795,727)(807,780)(1003,610)(1003,675)(1300,610)(1340,640)(1300,675)(1340,610)(1385,610)(1413,610)(1385,640)(1413,640)(1385,675)(1413,675)(1490,700)(218,780)(310,775)(305,790)(505,773)(445,810)(478,825)(605,820)(665,810)(675,820)(1163,820)(1232,820)(1355,780)(1375,780)(830,912)(903,980)(1048,1003)(1105,1013)(92,945)(72,975)(100,1010)(70,1020)(35,1050)(72,1050)(105,1035)(190,1025)(205,1010)(205,1050)(272,1058)(315,980)(368,1003)(368,1020)(368,1078)(490,968)(498,1003)(605,975)(640,975)(675,975)(605,1013)(640,1013)(675,1013)(605,1035)(640,1050)(675,1035)(1163,975)(1197,975)(1232,975)(1163,1013)(1197,1013)(1232,1013)(1163,1050)(1197,1050)(1232,1050)(1455,980)(1413,1058)(105,1115)(172,1120)(205,1120)(172,1155)(205,1155)(172,1190)(250,1120)(270,1155)(250,1155)(250,1190)(270,1190)(305,1120)(355,1208)(413,1115)(435,1130)(415,1155)(645,1115)(675,1115)(685,1155)(605,1187)(770,1135)(795,1125)(770,1160)(795,1160)(770,1190)(795,1190)(835,1125)(835,1155)(835,1190)(1003,1125)(1013,1135)(1003,1187)(1197,1115)(1300,1120)(1320,1120)(1340,1155)(1300,1155)(1320,1190)(1340,1190)(1385,1190)(1413,1190)(1445,1145)(1490,1208)(218,1287)(443,1315)(465,1335)(807,1287)(840,1295)(895,1287)(1000,1305)(1015,1335)(1053,1280)(1220,1295)(1355,1287)(1375,1287)(1408,1287)(35,1363)(68,1345)(100,1345)(105,1365)(645,1363)(665,1345)(685,1365)(1163,1363)(1197,1363)(1230,1345)(1232,1365)(203,1407)(583,1418)(725,1407)(795,1407)(810,1407)(830,1455)(1135,1407)(1338,1407)(205,1495)(205,1525)(35,1495)(92,1495)(100,1495)(175,1555)(205,1555)(245,1555)(270,1555)(368,1555)(498,1545)(605,1495)(605,1530)(640,1495)(675,1515)(640,1535)(677,1465)(745,1495)(755,1555)(795,1555)(1040,1465)(1048,1545)(1163,1495)(1197,1515)(1225,1495)(1163,1530)(1230,1535)(1197,1550)(1290,1495)(1340,1555)(1385,1555)};
\addplot[bd,cb=1716] coordinates {(78,72)(100,65)(118,105)(78,137)(17,157)(43,235)(128,245)(115,268)(155,268)(130,280)(430,65)(475,70)(420,137)(465,105)(475,137)(490,150)(530,247)(593,245)(485,15)(655,100)(700,85)(740,80)(808,175)(690,260)(680,268)(695,285)(880,293)(850,315)(920,315)(787,347)(828,372)(787,410)(590,347)(1005,70)(1030,70)(1030,105)(1040,137)(1055,137)(1220,137)(1300,82)(1383,85)(1125,247)(1245,265)(1262,275)(1440,295)(1475,315)(1290,347)(1383,372)(272,315)(305,280)(345,295)(340,320)(167,347)(250,372)(158,448)(128,488)(155,497)(318,410)(272,441)(272,470)(310,441)(345,441)(345,470)(310,510)(345,510)(272,535)(310,535)(345,548)(522,441)(648,488)(727,410)(727,445)(727,478)(727,522)(850,441)(885,441)(920,441)(885,470)(850,510)(885,510)(915,535)(850,550)(1042,430)(1037,487)(1047,555)(1405,441)(1465,441)(1475,441)(1535,441)(1292,478)(1292,503)(1405,510)(1440,510)(1470,510)(1440,540)(1475,550)(485,555)(78,610)(78,640)(78,675)(153,622)(18,700)(420,610)(440,610)(475,610)(490,610)(420,640)(510,640)(465,640)(430,675)(475,675)(700,622)(673,640)(730,740)(808,720)(1005,610)(1030,610)(1055,610)(1075,615)(1005,640)(1030,675)(1220,610)(1383,622)(43,780)(115,810)(140,825)(272,820)(310,820)(330,815)(345,820)(323,835)(555,790)(590,780)(592,790)(680,810)(700,810)(1125,790)(1245,810)(1268,820)(1405,820)(885,820)(157,920)(720,920)(787,920)(1290,920)(1292,1003)(725,995)(155,968)(168,1003)(310,975)(345,975)(310,1010)(345,1010)(272,1015)(310,1045)(345,1035)(272,1045)(522,948)(485,1057)(908,945)(920,975)(850,975)(885,1015)(920,1035)(920,1055)(850,1040)(1047,1057)(1460,948)(1440,975)(1468,1015)(1440,1015)(1405,1040)(1440,1055)(1475,1040)(78,1125)(100,1110)(103,1135)(78,1187)(17,1208)(420,1110)(420,1125)(440,1155)(475,1125)(490,1125)(475,1155)(490,1155)(420,1187)(465,1187)(475,1187)(700,1135)(673,1155)(740,1130)(1005,1120)(1030,1135)(1070,1120)(1005,1155)(1030,1155)(1055,1155)(1030,1190)(1220,1115)(1220,1187)(1300,1133)(1383,1135)(1475,1115)(308,1187)(808,1228)(830,1198)(43,1287)(128,1295)(115,1318)(128,1340)(172,1280)(530,1295)(592,1287)(592,1295)(680,1315)(695,1335)(305,1320)(310,1365)(345,1345)(345,1365)(880,1340)(920,1365)(1040,1287)(1125,1295)(1245,1315)(1270,1315)(1258,1350)(1440,1340)(1440,1365)(250,1418)(828,1418)(1383,1418)(522,1497)(272,1495)(272,1530)(340,1495)(350,1520)(128,1535)(78,1555)(272,1555)(318,1555)(350,1550)(435,1555)(725,1535)(648,1535)(640,1560)(850,1495)(905,1495)(920,1495)(915,1530)(885,1555)(920,1555)(1042,1485)(1035,1530)(1040,1555)(1220,1555)(1292,1535)(1405,1495)(1440,1495)(1470,1495)(1405,1515)(1535,1495)(1440,1550)(1475,1555)};
\addplot[bd,cc=230] coordinates {(45,80)(70,80)(45,115)(70,115)(70,150)(133,95)(120,165)(188,152)(288,88)(278,115)(270,165)(84,258)(253,280)(287,275)(288,300)(448,307)(555,80)(575,80)(605,80)(625,80)(645,80)(555,110)(605,110)(645,110)(555,145)(610,150)(630,150)(725,152)(790,80)(790,110)(810,115)(805,165)(625,258)(830,285)(973,322)(1008,300)(1043,300)(1043,322)(830,378)(930,185)(1108,80)(1125,80)(1158,80)(1195,80)(1108,110)(1150,110)(1195,115)(1120,150)(1158,150)(1195,150)(1345,80)(1367,80)(1345,115)(1367,115)(1345,150)(1367,150)(1275,258)(1535,300)(1535,322)(1565,300)(1565,322)(1415,387)(415,497)(450,505)(480,497)(415,525)(450,525)(480,525)(487,545)(545,482)(610,473)(637,515)(658,438)(857,480)(908,490)(775,513)(973,460)(973,495)(973,545)(1008,460)(1043,460)(1008,495)(1043,495)(1043,545)(1003,510)(1535,460)(1535,495)(1535,530)(1565,460)(1565,530)(45,605)(70,605)(95,607)(35,663)(70,650)(133,612)(120,685)(155,725)(278,635)(555,605)(575,605)(605,605)(645,605)(555,640)(605,640)(645,640)(545,660)(575,660)(605,660)(645,670)(528,685)(790,605)(810,605)(810,635)(790,665)(738,685)(728,725)(728,750)(728,770)(738,805)(565,757)(378,703)(1108,605)(1150,605)(1195,605)(1108,640)(1158,640)(1195,640)(1108,665)(1140,665)(1195,665)(1345,605)(1367,605)(1365,635)(1345,665)(1163,725)(1172,772)(1492,703)(83,770)(93,800)(190,770)(183,795)(88,847)(278,790)(290,790)(288,848)(415,815)(450,833)(188,893)(133,958)(855,757)(875,775)(805,792)(835,822)(973,833)(1008,815)(1043,833)(1285,797)(1385,797)(1515,822)(1565,820)(1138,847)(580,893)(728,880)(735,885)(725,900)(822,882)(855,893)(880,893)(910,893)(950,882)(1530,893)(415,1000)(480,985)(450,1010)(487,1035)(480,1015)(425,1060)(450,1050)(395,1078)(545,990)(728,1027)(620,1060)(875,1042)(973,965)(1008,965)(1043,965)(973,1000)(1008,1000)(1043,1000)(973,1035)(1008,1035)(1043,1035)(950,1078)(1043,1060)(1135,975)(1182,1000)(1170,1060)(1218,955)(1415,987)(1535,990)(1535,1050)(1565,970)(1565,1030)(33,1115)(50,1115)(72,1115)(110,1115)(45,1150)(72,1150)(110,1150)(50,1185)(72,1185)(120,1185)(133,1225)(155,1208)(185,1247)(255,1120)(278,1120)(278,1155)(255,1180)(255,1210)(295,1225)(320,1250)(340,1268)(368,1290)(383,1330)(415,1330)(415,1310)(443,1308)(480,1308)(480,1330)(555,1115)(575,1115)(555,1150)(545,1178)(528,1198)(610,1110)(630,1120)(600,1150)(610,1180)(790,1147)(810,1180)(930,1213)(1108,1115)(1125,1115)(1158,1115)(1120,1150)(1158,1150)(1125,1180)(1158,1180)(1362,1150)(84,1280)(125,1290)(145,1330)(775,1298)(815,1298)(835,1310)(730,1388)(1003,1308)(1385,1298)(1367,1298)(1390,1330)(1515,1313)(1568,1305)(658,1440)(343,1393)(255,1430)(295,1447)(305,1487)(365,1440)(383,1415)(400,1450)(415,1490)(415,1525)(450,1465)(450,1500)(450,1525)(485,1465)(485,1500)(485,1535)(830,1393)(857,1388)(908,1418)(775,1480)(828,1475)(855,1485)(950,1452)(1030,1440)(1040,1480)(1008,1497)(973,1497)(973,1535)(1043,1497)(1043,1525)(1530,1388)(1515,1452)(1415,1487)(1535,1497)(1565,1497)(33,1534)};
\addplot[bd,cc=980] coordinates {(165,80)(205,80)(205,115)(270,90)(270,148)(413,80)(435,80)(435,115)(413,148)(355,165)(683,80)(660,165)(765,80)(795,80)(765,110)(795,110)(755,148)(835,110)(865,95)(1300,80)(1320,80)(1340,80)(1300,145)(1340,145)(1385,80)(1413,90)(1385,110)(1413,145)(1408,210)(1490,165)(1215,165)(225,258)(205,300)(35,300)(35,322)(70,300)(70,322)(105,300)(105,322)(433,282)(465,275)(465,298)(665,250)(683,300)(672,322)(677,388)(490,410)(1010,285)(1090,387)(1037,410)(1197,305)(1225,322)(1232,300)(1515,258)(35,460)(35,495)(35,530)(70,460)(70,495)(70,530)(105,460)(105,495)(105,530)(165,482)(228,492)(283,487)(497,490)(605,495)(605,530)(640,495)(640,530)(673,460)(680,495)(680,530)(745,482)(1163,460)(1197,460)(1163,495)(1163,530)(1230,500)(1197,545)(1225,545)(1290,482)(1365,490)(1425,487)(165,600)(185,605)(205,605)(205,635)(270,605)(270,620)(250,665)(270,665)(355,687)(413,605)(435,635)(683,600)(560,703)(593,682)(770,600)(795,605)(795,635)(765,665)(835,605)(865,612)(835,665)(895,723)(1110,703)(1313,600)(1340,610)(1320,635)(1300,665)(1340,665)(1385,600)(1413,600)(1413,665)(1490,687)(1448,723)(1515,723)(1550,665)(1568,635)(222,772)(228,772)(195,847)(228,840)(70,815)(70,840)(105,833)(15,820)(445,793)(465,810)(478,797)(665,762)(660,790)(673,833)(810,772)(815,770)(1013,785)(1013,815)(1215,793)(1325,772)(1375,772)(1408,772)(1362,840)(30,893)(490,893)(497,893)(490,950)(270,955)(1043,893)(1040,895)(1037,925)(1515,893)(865,955)(1412,955)(35,990)(35,1053)(70,970)(70,1010)(70,1050)(105,970)(105,1010)(105,1050)(165,990)(205,1010)(368,1078)(605,1005)(605,1050)(640,985)(640,1020)(640,1050)(673,1000)(680,1050)(745,990)(1135,1078)(1163,1005)(1163,1040)(1197,970)(1225,970)(1197,1005)(1225,1005)(1197,1050)(1232,1050)(1290,990)(1320,1065)(1445,1065)(165,1115)(205,1120)(205,1150)(250,1148)(270,1120)(270,1180)(413,1115)(435,1120)(413,1150)(435,1155)(413,1180)(355,1198)(683,1147)(770,1115)(795,1125)(770,1150)(765,1180)(795,1150)(835,1147)(1300,1115)(1340,1130)(1313,1150)(1340,1180)(1313,1180)(1385,1115)(1413,1120)(1385,1150)(1413,1180)(1490,1198)(218,1280)(310,1272)(465,1298)(478,1330)(503,1265)(538,1237)(563,1212)(645,1308)(665,1298)(675,1308)(1010,1313)(68,1305)(98,1298)(15,1313)(1163,1308)(1353,1280)(30,1388)(583,1452)(92,1440)(15,1452)(205,1460)(35,1497)(70,1505)(105,1505)(205,1505)(190,1510)(497,1487)(605,1505)(640,1497)(640,1535)(673,1515)(830,1505)(1048,1487)(1135,1452)(1197,1460)(1163,1497)(1197,1497)(1232,1497)(1197,1535)(1232,1535)(1415,1510)};
\addplot[bd,cc=1716] coordinates {(78,110)(100,110)(78,150)(17,165)(328,165)(418,80)(440,80)(465,80)(490,80)(510,80)(418,110)(465,110)(510,110)(418,150)(475,150)(490,150)(590,150)(655,80)(675,80)(655,115)(675,115)(668,165)(808,185)(985,80)(1005,80)(1030,80)(1055,80)(985,110)(1030,110)(1055,110)(1000,150)(1030,150)(1055,150)(1220,80)(1240,88)(1220,115)(1220,150)(1240,150)(43,258)(125,280)(130,295)(310,300)(332,250)(488,258)(693,280)(850,300)(885,300)(920,300)(920,322)(1215,328)(1405,322)(1440,300)(1475,300)(1468,322)(155,385)(152,410)(693,378)(732,390)(310,460)(272,495)(310,495)(340,495)(272,510)(310,530)(345,540)(410,482)(475,472)(500,515)(522,438)(640,513)(715,490)(730,480)(787,490)(850,460)(850,495)(850,530)(885,460)(885,495)(885,530)(920,460)(920,495)(920,530)(1290,490)(1405,495)(1405,530)(1440,460)(1470,460)(1440,495)(1470,495)(1440,530)(1470,530)(1533,482)(100,635)(78,665)(18,687)(43,723)(418,605)(440,605)(465,605)(490,605)(510,605)(418,665)(440,665)(465,635)(510,635)(490,665)(510,665)(655,600)(675,605)(675,635)(655,665)(675,665)(603,687)(592,725)(592,750)(592,770)(603,805)(1000,605)(1030,605)(1055,605)(1020,635)(1040,665)(1055,665)(987,665)(1125,607)(1220,605)(1240,605)(1220,665)(1240,665)(1040,725)(1050,772)(1360,703)(228,703)(115,793)(130,815)(140,800)(332,762)(328,795)(668,793)(700,820)(725,755)(748,772)(850,833)(885,815)(920,815)(920,833)(1158,797)(1215,793)(1250,797)(1265,800)(1383,820)(1440,815)(1440,840)(1475,833)(45,893)(155,893)(152,948)(445,893)(590,880)(598,885)(590,900)(688,880)(725,893)(787,893)(827,882)(1290,893)(1383,880)(258,985)(272,1005)(310,1000)(340,1000)(310,1035)(340,1030)(345,1050)(272,1050)(250,1078)(410,990)(592,1027)(485,1060)(748,1042)(850,985)(850,1020)(885,965)(920,965)(885,1000)(920,1000)(885,1035)(920,1035)(850,1050)(828,1078)(1013,975)(1058,1000)(1047,1060)(1095,955)(1292,987)(1405,965)(1405,1000)(1405,1035)(1440,985)(1470,965)(1470,1000)(1440,1015)(1470,1035)(1405,1050)(1382,1078)(1533,990)(78,1115)(100,1115)(103,1155)(430,1115)(470,1115)(490,1115)(418,1150)(440,1150)(470,1150)(490,1150)(475,1180)(675,1180)(1003,1120)(1035,1120)(1020,1150)(1035,1180)(1220,1120)(1240,1115)(125,1298)(140,1330)(310,1305)(332,1298)(350,1308)(310,1330)(640,1298)(680,1298)(700,1305)(880,1305)(1040,1272)(1215,1280)(1245,1298)(1270,1298)(1265,1330)(1383,1313)(1438,1305)(1467,1298)(588,1388)(305,1393)(697,1393)(787,1418)(522,1440)(250,1452)(828,1452)(907,1440)(640,1480)(693,1475)(725,1485)(155,1487)(165,1487)(310,1497)(340,1497)(345,1525)(272,1518)(850,1497)(885,1497)(915,1480)(920,1518)(1382,1452)(1462,1440)(1290,1487)(1440,1497)(1470,1520)};
\end{axis}
\end{tikzpicture}
\end{document}
